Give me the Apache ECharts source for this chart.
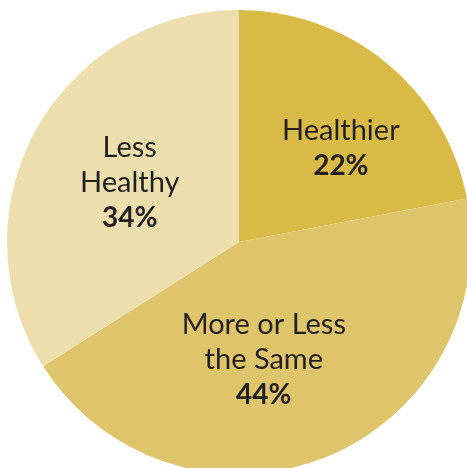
<!DOCTYPE html>
<html>
<head>
<meta charset="utf-8">
<style>html,body{margin:0;padding:0;background:#fff;}#c{width:467px;height:468px;}</style>
<script src="https://cdn.jsdelivr.net/npm/echarts@6/dist/echarts.min.js"></script>
</head>
<body>
<div id="c"></div>
<script>
var categories = ['Healthier', 'More or Less\nthe Same', 'Less\nHealthy'];
var values = [22, 44, 34];
var colors = ['#D9BA47', '#DEC46B', '#EDDFAD'];
var labelShift = [[26, -2], [-19, 7], [-5, -2]];

var chart = echarts.init(document.getElementById('c'), null, {renderer: 'canvas'});
var data = categories.map(function (c, i) {
  return { name: c, value: values[i], itemStyle: { color: colors[i] } };
});
chart.setOption({
  backgroundColor: '#ffffff',
  animation: false,
  series: [{
    type: 'pie',
    center: [239, 242],
    radius: [0, 232],
    startAngle: 90,
    clockwise: true,
    avoidLabelOverlap: false,
    itemStyle: { borderWidth: 0 },
    emphasis: { disabled: true },
    label: {
      show: true,
      position: 'inside',
      formatter: function (p) {
        var lines = p.name.split('\n').map(function (l) { return '{n|' + l + '}'; });
        return lines.join('\n') + '\n{p|' + p.value + '%}';
      },
      rich: {
        n: { fontFamily: 'Lato', fontSize: 29, fontWeight: 'normal', color: '#231F20', lineHeight: 35, align: 'center' },
        p: { fontFamily: 'Lato', fontSize: 28, fontWeight: 'bold', color: '#231F20', lineHeight: 35, align: 'center' }
      }
    },
    labelLine: { show: false },
    labelLayout: function (params) {
      var s = labelShift[params.dataIndex];
      return { dx: s[0], dy: s[1] };
    },
    data: data
  }]
});
</script>
</body>
</html>
